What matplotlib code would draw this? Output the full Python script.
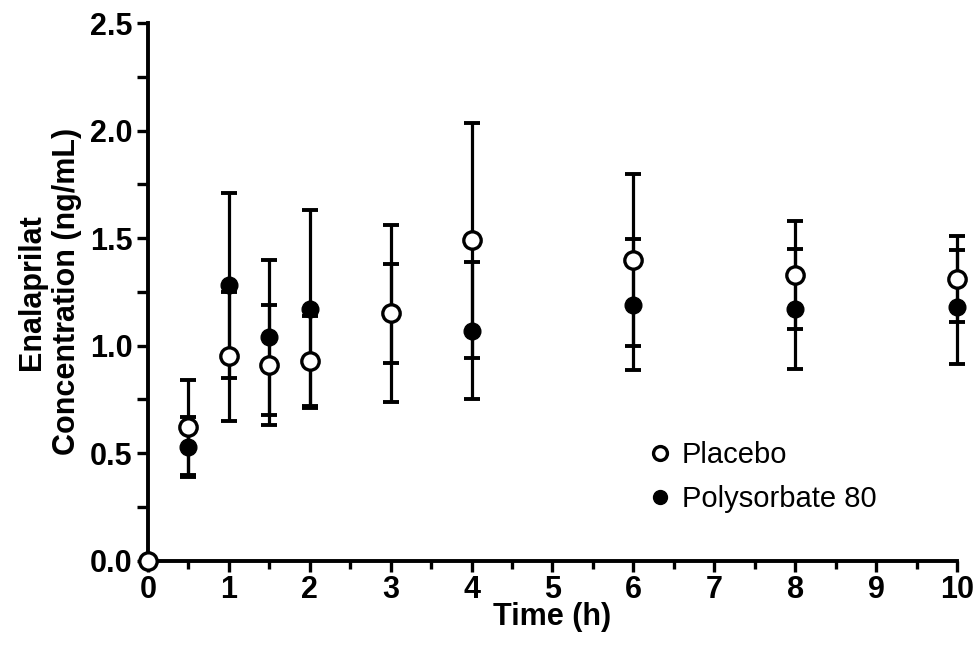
import matplotlib
matplotlib.use("Agg")
import matplotlib.pyplot as plt
from matplotlib.lines import Line2D
from matplotlib.ticker import MultipleLocator

plt.rcParams['font.family'] = ['Liberation Sans', 'DejaVu Sans']

# sampling times (h)
time_h = [0, 0.5, 1, 1.5, 2, 3, 4, 6, 8, 10]

# enalaprilat concentration (ng/mL), mean and SD
placebo_mean = [0.0, 0.62, 0.95, 0.91, 0.93, 1.15, 1.49, 1.40, 1.33, 1.31]
placebo_sd = [0.0, 0.22, 0.30, 0.28, 0.21, 0.41, 0.545, 0.40, 0.25, 0.20]
poly80_mean = [0.0, 0.53, 1.28, 1.04, 1.17, 1.15, 1.07, 1.19, 1.17, 1.18]
poly80_sd = [0.0, 0.14, 0.43, 0.36, 0.46, 0.23, 0.32, 0.305, 0.28, 0.265]

fig = plt.figure(figsize=(9.73, 6.59), dpi=100)
ax = fig.add_axes([0.152, 0.149, 0.8316, 0.816])

bar_kw = dict(fmt='none', ecolor='black', elinewidth=2.3, capsize=5.5, capthick=2.8,
              clip_on=False)

# Polysorbate 80 underneath
ax.errorbar(time_h[1:], poly80_mean[1:], yerr=poly80_sd[1:], zorder=2, **bar_kw)
ax.plot(time_h, poly80_mean, 'o', color='black', markersize=12, zorder=3, clip_on=False)

# Placebo on top
ax.errorbar(time_h[1:], placebo_mean[1:], yerr=placebo_sd[1:], zorder=4, **bar_kw)
ax.plot(time_h, placebo_mean, 'o', markerfacecolor='white', markeredgecolor='black',
        markeredgewidth=2.4, markersize=12.5, zorder=5, clip_on=False)

ax.set_xlim(0, 10)
ax.set_ylim(0, 2.5)
ax.xaxis.set_major_locator(MultipleLocator(1))
ax.xaxis.set_minor_locator(MultipleLocator(0.5))
ax.yaxis.set_major_locator(MultipleLocator(0.5))
ax.yaxis.set_minor_locator(MultipleLocator(0.25))
ax.yaxis.set_major_formatter(matplotlib.ticker.FormatStrFormatter('%.1f'))

for s in ['top', 'right']:
    ax.spines[s].set_visible(False)
for s in ['left', 'bottom']:
    ax.spines[s].set_linewidth(2.8)

ax.tick_params(axis='both', which='both', direction='out', width=2.4, labelsize=22)
ax.tick_params(axis='x', which='major', length=8, pad=2)
ax.tick_params(axis='x', which='minor', length=5.5)
ax.tick_params(axis='y', which='major', length=8, pad=3)
ax.tick_params(axis='y', which='minor', length=8)
for lab in ax.get_xticklabels() + ax.get_yticklabels():
    lab.set_fontweight('bold')

ax.set_xlabel('Time (h)', fontsize=22, fontweight='bold', labelpad=-2)
ax.set_ylabel('Enalaprilat\nConcentration (ng/mL)', fontsize=22, fontweight='bold',
              labelpad=6, linespacing=1.2)

handles = [
    Line2D([], [], marker='o', linestyle='none', markerfacecolor='white',
           markeredgecolor='black', markeredgewidth=2.4, markersize=10),
    Line2D([], [], marker='o', linestyle='none', color='black', markersize=10),
]
ax.legend(handles, ['Placebo', 'Polysorbate 80'], loc='upper left',
          bbox_to_anchor=(0.6, 0.245), frameon=False, fontsize=21,
          handletextpad=0.25, labelspacing=0.55, handlelength=1.0, borderaxespad=0)

fig.savefig('out.png', dpi=100)
